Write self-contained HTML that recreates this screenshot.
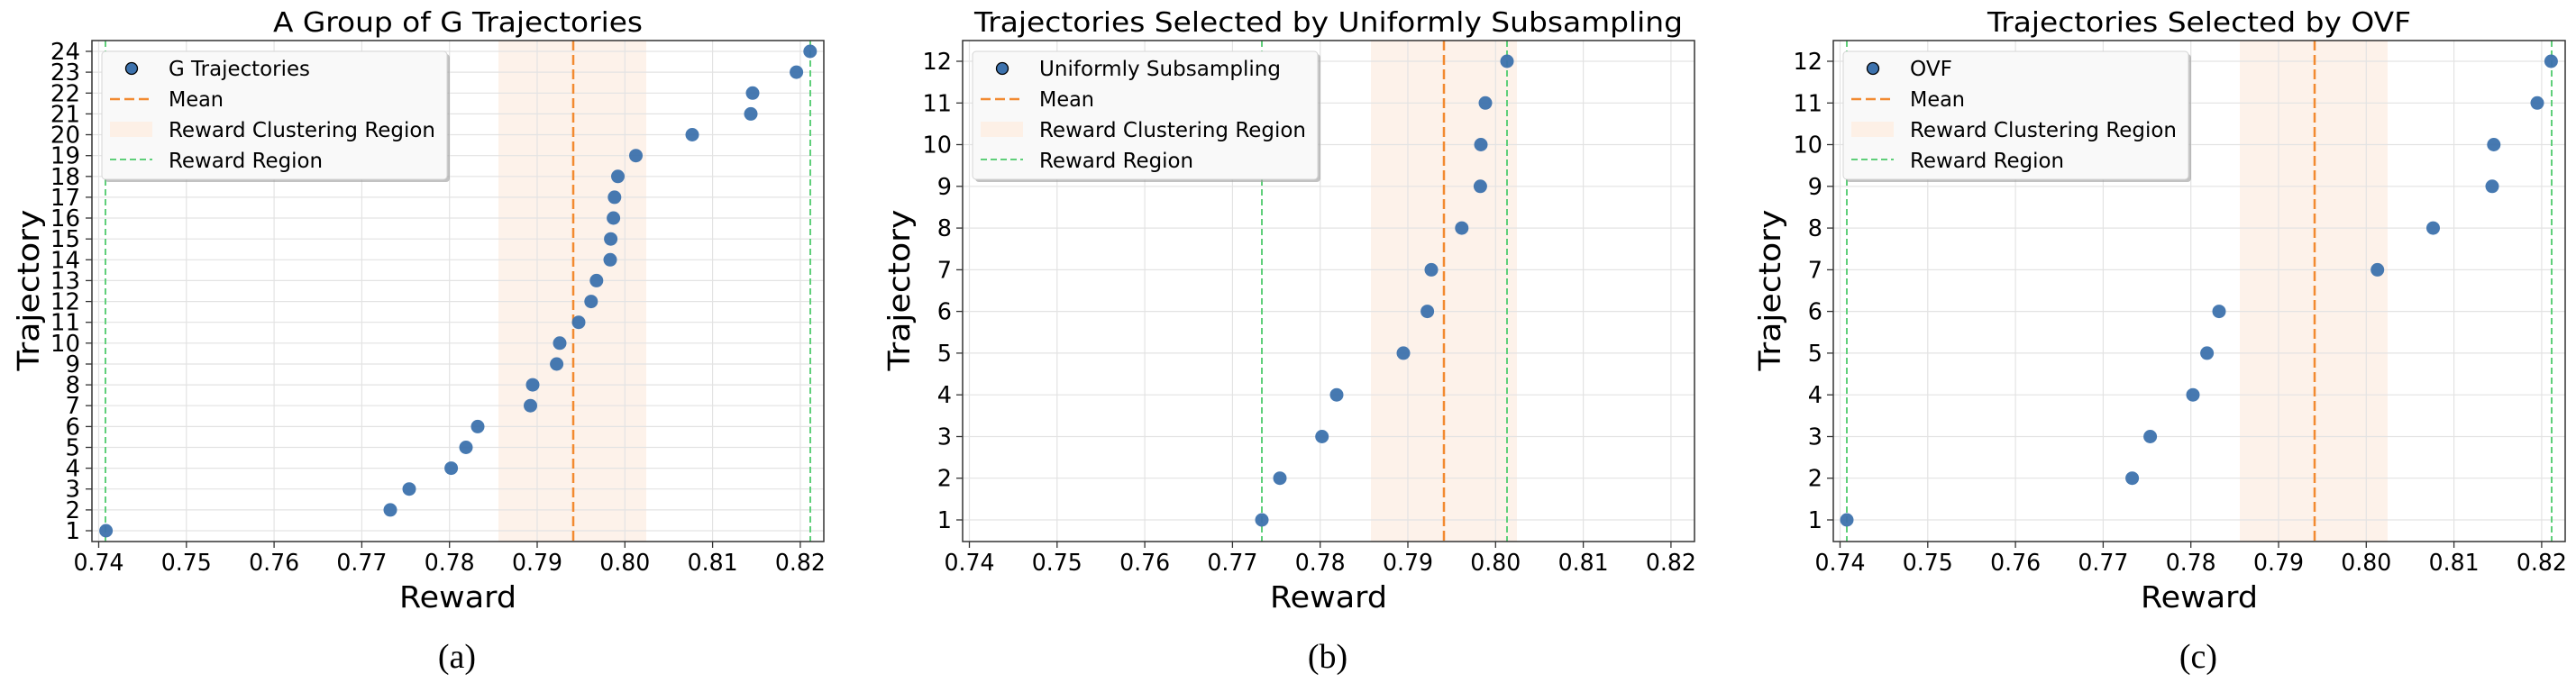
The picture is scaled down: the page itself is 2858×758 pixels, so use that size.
<!DOCTYPE html>
<html><head><meta charset="utf-8">
<style>
html,body{margin:0;padding:0;background:#fff;}
svg{display:block;}
text{font-family:"DejaVu Sans","Liberation Sans",sans-serif;fill:#000;}
.tk{font-size:25.5px;}
.tl{font-size:30px;}
.al{font-size:33px;}
.lg{font-size:23px;}
.cap{font-family:"Liberation Serif","DejaVu Serif",serif;font-size:38px;}
.grid line{stroke:#e3e3e3;stroke-width:1.2;}
.tick line{stroke:#333;stroke-width:1.3;}
</style></head>
<body>
<svg width="2858" height="758" viewBox="0 0 2858 758" xmlns="http://www.w3.org/2000/svg">
<defs>
<g id="xgrid" class="grid">
<line x1="109.5" y1="45" x2="109.5" y2="601"/><line x1="206.8" y1="45" x2="206.8" y2="601"/><line x1="304.1" y1="45" x2="304.1" y2="601"/><line x1="401.4" y1="45" x2="401.4" y2="601"/><line x1="498.7" y1="45" x2="498.7" y2="601"/><line x1="596" y1="45" x2="596" y2="601"/><line x1="693.3" y1="45" x2="693.3" y2="601"/><line x1="790.6" y1="45" x2="790.6" y2="601"/><line x1="887.9" y1="45" x2="887.9" y2="601"/>
</g>
<g id="xaxis">
<g class="tick"><line x1="109.5" y1="601" x2="109.5" y2="608"/><line x1="206.8" y1="601" x2="206.8" y2="608"/><line x1="304.1" y1="601" x2="304.1" y2="608"/><line x1="401.4" y1="601" x2="401.4" y2="608"/><line x1="498.7" y1="601" x2="498.7" y2="608"/><line x1="596" y1="601" x2="596" y2="608"/><line x1="693.3" y1="601" x2="693.3" y2="608"/><line x1="790.6" y1="601" x2="790.6" y2="608"/><line x1="887.9" y1="601" x2="887.9" y2="608"/></g>
<g class="tk">
<text x="81.5" y="633" textLength="56" lengthAdjust="spacingAndGlyphs">0.74</text><text x="178.8" y="633" textLength="56" lengthAdjust="spacingAndGlyphs">0.75</text><text x="276.1" y="633" textLength="56" lengthAdjust="spacingAndGlyphs">0.76</text><text x="373.4" y="633" textLength="56" lengthAdjust="spacingAndGlyphs">0.77</text><text x="470.7" y="633" textLength="56" lengthAdjust="spacingAndGlyphs">0.78</text><text x="568" y="633" textLength="56" lengthAdjust="spacingAndGlyphs">0.79</text><text x="665.3" y="633" textLength="56" lengthAdjust="spacingAndGlyphs">0.80</text><text x="762.6" y="633" textLength="56" lengthAdjust="spacingAndGlyphs">0.81</text><text x="859.9" y="633" textLength="56" lengthAdjust="spacingAndGlyphs">0.82</text>
</g>
<text class="al" x="443" y="674" textLength="130" lengthAdjust="spacingAndGlyphs">Reward</text>
<text class="al" transform="translate(43,411.5) rotate(-90)" textLength="179" lengthAdjust="spacingAndGlyphs">Trajectory</text>
</g>
<g id="ygrid12" class="grid">
<line x1="102" y1="577" x2="914" y2="577"/><line x1="102" y1="530.7" x2="914" y2="530.7"/><line x1="102" y1="484.5" x2="914" y2="484.5"/><line x1="102" y1="438.2" x2="914" y2="438.2"/><line x1="102" y1="391.9" x2="914" y2="391.9"/><line x1="102" y1="345.6" x2="914" y2="345.6"/><line x1="102" y1="299.4" x2="914" y2="299.4"/><line x1="102" y1="253.1" x2="914" y2="253.1"/><line x1="102" y1="206.8" x2="914" y2="206.8"/><line x1="102" y1="160.5" x2="914" y2="160.5"/><line x1="102" y1="114.3" x2="914" y2="114.3"/><line x1="102" y1="68" x2="914" y2="68"/>
</g>
<g id="yaxis12">
<g class="tick"><line x1="95" y1="577" x2="102" y2="577"/><line x1="95" y1="530.7" x2="102" y2="530.7"/><line x1="95" y1="484.5" x2="102" y2="484.5"/><line x1="95" y1="438.2" x2="102" y2="438.2"/><line x1="95" y1="391.9" x2="102" y2="391.9"/><line x1="95" y1="345.6" x2="102" y2="345.6"/><line x1="95" y1="299.4" x2="102" y2="299.4"/><line x1="95" y1="253.1" x2="102" y2="253.1"/><line x1="95" y1="206.8" x2="102" y2="206.8"/><line x1="95" y1="160.5" x2="102" y2="160.5"/><line x1="95" y1="114.3" x2="102" y2="114.3"/><line x1="95" y1="68" x2="102" y2="68"/></g>
<g class="tk" text-anchor="end">
<text x="90" y="586">1</text><text x="90" y="539.7">2</text><text x="90" y="493.5">3</text><text x="90" y="447.2">4</text><text x="90" y="400.9">5</text><text x="90" y="354.6">6</text><text x="90" y="308.4">7</text><text x="90" y="262.1">8</text><text x="90" y="215.8">9</text><text x="90" y="169.5">10</text><text x="90" y="123.3">11</text><text x="90" y="77">12</text>
</g>
</g>
<rect id="frame" x="102" y="45" width="812" height="556" fill="none" stroke="#333" stroke-width="1.5"/>
<g id="legbase">
<rect x="116" y="60" width="383" height="142" rx="4" fill="#999" opacity="0.6"/>
<rect x="113" y="57" width="383" height="142" rx="4" fill="#f9f9f9" stroke="#d5d5d5" stroke-width="1"/>
<circle cx="146" cy="76" r="6.5" fill="#3d72ad" stroke="#000" stroke-width="1.3"/>
<line x1="122" y1="110" x2="169" y2="110" stroke="#f28a30" stroke-width="2.5" stroke-dasharray="11,5"/>
<rect x="122" y="135" width="47" height="17" fill="#fdf0e6"/>
<line x1="122" y1="177" x2="169" y2="177" stroke="#5fcf7a" stroke-width="2" stroke-dasharray="7,4"/>
<text class="lg" x="187" y="118" textLength="61" lengthAdjust="spacingAndGlyphs">Mean</text>
<text class="lg" x="187" y="152" textLength="296" lengthAdjust="spacingAndGlyphs">Reward Clustering Region</text>
<text class="lg" x="187" y="186" textLength="171" lengthAdjust="spacingAndGlyphs">Reward Region</text>
</g>
</defs>

<!-- Panel A -->
<g>
<rect x="553" y="45" width="164" height="556" fill="#fdf0e6" opacity="0.85"/>
<use href="#xgrid"/>
<g class="grid">
<line x1="102" y1="589" x2="914" y2="589"/><line x1="102" y1="565.9" x2="914" y2="565.9"/><line x1="102" y1="542.7" x2="914" y2="542.7"/><line x1="102" y1="519.6" x2="914" y2="519.6"/><line x1="102" y1="496.5" x2="914" y2="496.5"/><line x1="102" y1="473.4" x2="914" y2="473.4"/><line x1="102" y1="450.2" x2="914" y2="450.2"/><line x1="102" y1="427.1" x2="914" y2="427.1"/><line x1="102" y1="404" x2="914" y2="404"/><line x1="102" y1="380.8" x2="914" y2="380.8"/><line x1="102" y1="357.7" x2="914" y2="357.7"/><line x1="102" y1="334.6" x2="914" y2="334.6"/><line x1="102" y1="311.4" x2="914" y2="311.4"/><line x1="102" y1="288.3" x2="914" y2="288.3"/><line x1="102" y1="265.2" x2="914" y2="265.2"/><line x1="102" y1="242" x2="914" y2="242"/><line x1="102" y1="218.9" x2="914" y2="218.9"/><line x1="102" y1="195.8" x2="914" y2="195.8"/><line x1="102" y1="172.7" x2="914" y2="172.7"/><line x1="102" y1="149.5" x2="914" y2="149.5"/><line x1="102" y1="126.4" x2="914" y2="126.4"/><line x1="102" y1="103.3" x2="914" y2="103.3"/><line x1="102" y1="80.1" x2="914" y2="80.1"/><line x1="102" y1="57" x2="914" y2="57"/>
</g>
<line x1="636" y1="45" x2="636" y2="601" stroke="#f28a30" stroke-width="2.5" stroke-dasharray="11,5"/>
<line x1="117" y1="45" x2="117" y2="601" stroke="#5fcf7a" stroke-width="2" stroke-dasharray="7,4"/>
<line x1="899" y1="45" x2="899" y2="601" stroke="#5fcf7a" stroke-width="2" stroke-dasharray="7,4"/>
<g fill="#3d72ad" opacity="0.95">
<circle cx="117.6" cy="589" r="7.5"/><circle cx="433" cy="565.9" r="7.5"/><circle cx="454" cy="542.7" r="7.5"/><circle cx="500.6" cy="519.6" r="7.5"/><circle cx="517" cy="496.5" r="7.5"/><circle cx="530" cy="473.4" r="7.5"/><circle cx="588.5" cy="450.2" r="7.5"/><circle cx="591" cy="427.1" r="7.5"/><circle cx="617.6" cy="404" r="7.5"/><circle cx="621" cy="380.8" r="7.5"/><circle cx="642" cy="357.7" r="7.5"/><circle cx="655.8" cy="334.6" r="7.5"/><circle cx="661.8" cy="311.4" r="7.5"/><circle cx="677" cy="288.3" r="7.5"/><circle cx="677.6" cy="265.2" r="7.5"/><circle cx="680.6" cy="242" r="7.5"/><circle cx="681.8" cy="218.9" r="7.5"/><circle cx="685.5" cy="195.8" r="7.5"/><circle cx="705.5" cy="172.7" r="7.5"/><circle cx="768" cy="149.5" r="7.5"/><circle cx="833" cy="126.4" r="7.5"/><circle cx="835" cy="103.3" r="7.5"/><circle cx="883.6" cy="80.1" r="7.5"/><circle cx="898.8" cy="57" r="7.5"/>
</g>
<use href="#frame"/>
<use href="#xaxis"/>
<g class="tick"><line x1="95" y1="589" x2="102" y2="589"/><line x1="95" y1="565.9" x2="102" y2="565.9"/><line x1="95" y1="542.7" x2="102" y2="542.7"/><line x1="95" y1="519.6" x2="102" y2="519.6"/><line x1="95" y1="496.5" x2="102" y2="496.5"/><line x1="95" y1="473.4" x2="102" y2="473.4"/><line x1="95" y1="450.2" x2="102" y2="450.2"/><line x1="95" y1="427.1" x2="102" y2="427.1"/><line x1="95" y1="404" x2="102" y2="404"/><line x1="95" y1="380.8" x2="102" y2="380.8"/><line x1="95" y1="357.7" x2="102" y2="357.7"/><line x1="95" y1="334.6" x2="102" y2="334.6"/><line x1="95" y1="311.4" x2="102" y2="311.4"/><line x1="95" y1="288.3" x2="102" y2="288.3"/><line x1="95" y1="265.2" x2="102" y2="265.2"/><line x1="95" y1="242" x2="102" y2="242"/><line x1="95" y1="218.9" x2="102" y2="218.9"/><line x1="95" y1="195.8" x2="102" y2="195.8"/><line x1="95" y1="172.7" x2="102" y2="172.7"/><line x1="95" y1="149.5" x2="102" y2="149.5"/><line x1="95" y1="126.4" x2="102" y2="126.4"/><line x1="95" y1="103.3" x2="102" y2="103.3"/><line x1="95" y1="80.1" x2="102" y2="80.1"/><line x1="95" y1="57" x2="102" y2="57"/></g>
<g class="tk" text-anchor="end" style="font-size:26px">
<text x="89" y="598">1</text><text x="89" y="574.9">2</text><text x="89" y="551.7">3</text><text x="89" y="528.6">4</text><text x="89" y="505.5">5</text><text x="89" y="482.4">6</text><text x="89" y="459.2">7</text><text x="89" y="436.1">8</text><text x="89" y="413">9</text><text x="89" y="389.8">10</text><text x="89" y="366.7">11</text><text x="89" y="343.6">12</text><text x="89" y="320.4">13</text><text x="89" y="297.3">14</text><text x="89" y="274.2">15</text><text x="89" y="251">16</text><text x="89" y="227.9">17</text><text x="89" y="204.8">18</text><text x="89" y="181.7">19</text><text x="89" y="158.5">20</text><text x="89" y="135.4">21</text><text x="89" y="112.3">22</text><text x="89" y="89.1">23</text><text x="89" y="66">24</text>
</g>
<use href="#legbase"/>
<text class="lg" x="187" y="84" textLength="157" lengthAdjust="spacingAndGlyphs">G Trajectories</text>
<text class="tl" x="303" y="35" textLength="410" lengthAdjust="spacingAndGlyphs">A Group of G Trajectories</text>
<text class="cap" x="507" y="741" text-anchor="middle">(a)</text>
</g>

<!-- Panel B -->
<g transform="translate(966,0)">
<rect x="555" y="45" width="162" height="556" fill="#fdf0e6" opacity="0.85"/>
<use href="#xgrid"/>
<use href="#ygrid12"/>
<line x1="636" y1="45" x2="636" y2="601" stroke="#f28a30" stroke-width="2.5" stroke-dasharray="11,5"/>
<line x1="434" y1="45" x2="434" y2="601" stroke="#5fcf7a" stroke-width="2" stroke-dasharray="7,4"/>
<line x1="706" y1="45" x2="706" y2="601" stroke="#5fcf7a" stroke-width="2" stroke-dasharray="7,4"/>
<g fill="#3d72ad" opacity="0.95">
<circle cx="434" cy="577" r="7.5"/><circle cx="454" cy="530.7" r="7.5"/><circle cx="500.7" cy="484.5" r="7.5"/><circle cx="517" cy="438.2" r="7.5"/><circle cx="591" cy="391.9" r="7.5"/><circle cx="617.6" cy="345.6" r="7.5"/><circle cx="622" cy="299.4" r="7.5"/><circle cx="655.8" cy="253.1" r="7.5"/><circle cx="676.4" cy="206.8" r="7.5"/><circle cx="677" cy="160.5" r="7.5"/><circle cx="682" cy="114.3" r="7.5"/><circle cx="706" cy="68" r="7.5"/>
</g>
<use href="#frame"/>
<use href="#xaxis"/>
<use href="#yaxis12"/>
<use href="#legbase"/>
<text class="lg" x="187" y="84" textLength="268" lengthAdjust="spacingAndGlyphs">Uniformly Subsampling</text>
<text class="tl" x="115" y="35" textLength="786" lengthAdjust="spacingAndGlyphs">Trajectories Selected by Uniformly Subsampling</text>
<text class="cap" x="507" y="741" text-anchor="middle">(b)</text>
</g>

<!-- Panel C -->
<g transform="translate(1932,0)">
<rect x="553" y="45" width="164" height="556" fill="#fdf0e6" opacity="0.85"/>
<use href="#xgrid"/>
<use href="#ygrid12"/>
<line x1="636" y1="45" x2="636" y2="601" stroke="#f28a30" stroke-width="2.5" stroke-dasharray="11,5"/>
<line x1="117" y1="45" x2="117" y2="601" stroke="#5fcf7a" stroke-width="2" stroke-dasharray="7,4"/>
<line x1="899" y1="45" x2="899" y2="601" stroke="#5fcf7a" stroke-width="2" stroke-dasharray="7,4"/>
<g fill="#3d72ad" opacity="0.95">
<circle cx="117" cy="577" r="7.5"/><circle cx="433.6" cy="530.7" r="7.5"/><circle cx="453.6" cy="484.5" r="7.5"/><circle cx="501" cy="438.2" r="7.5"/><circle cx="516.6" cy="391.9" r="7.5"/><circle cx="530" cy="345.6" r="7.5"/><circle cx="705.7" cy="299.4" r="7.5"/><circle cx="767.5" cy="253.1" r="7.5"/><circle cx="833" cy="206.8" r="7.5"/><circle cx="834.8" cy="160.5" r="7.5"/><circle cx="883" cy="114.3" r="7.5"/><circle cx="898.4" cy="68" r="7.5"/>
</g>
<use href="#frame"/>
<use href="#xaxis"/>
<use href="#yaxis12"/>
<use href="#legbase"/>
<text class="lg" x="187" y="84" textLength="47" lengthAdjust="spacingAndGlyphs">OVF</text>
<text class="tl" x="273" y="35" textLength="470" lengthAdjust="spacingAndGlyphs">Trajectories Selected by OVF</text>
<text class="cap" x="507" y="741" text-anchor="middle">(c)</text>
</g>
</svg>
</body></html>
